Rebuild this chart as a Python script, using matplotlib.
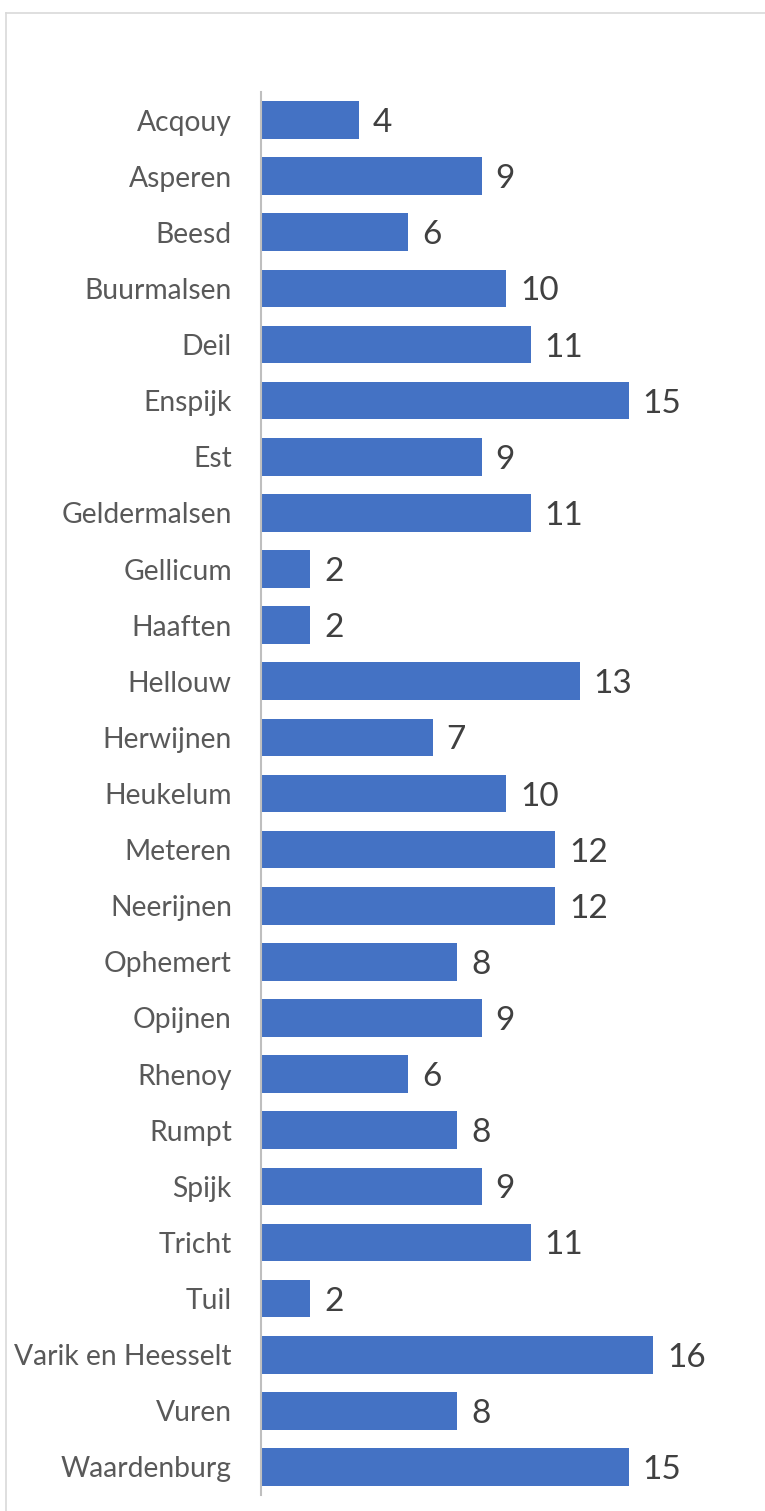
import matplotlib
matplotlib.use('Agg')
import matplotlib.pyplot as plt
from matplotlib.lines import Line2D

places = ['Acqouy', 'Asperen', 'Beesd', 'Buurmalsen', 'Deil', 'Enspijk', 'Est',
          'Geldermalsen', 'Gellicum', 'Haaften', 'Hellouw', 'Herwijnen', 'Heukelum',
          'Meteren', 'Neerijnen', 'Ophemert', 'Opijnen', 'Rhenoy', 'Rumpt', 'Spijk',
          'Tricht', 'Tuil', 'Varik en Heesselt', 'Vuren', 'Waardenburg']
counts = [4, 9, 6, 10, 11, 15, 9, 11, 2, 2, 13, 7, 10, 12, 12, 8, 9, 6, 8, 9,
          11, 2, 16, 8, 15]

W, H, DPI = 765, 1511, 100
plt.rcParams['font.family'] = ['Lato', 'DejaVu Sans']

fig = plt.figure(figsize=(W / DPI, H / DPI), dpi=DPI)
fig.patch.set_facecolor('white')

# outer chart frame (only top and left visible in the reference)
fig.add_artist(Line2D([6 / W, 1.0], [1 - 13 / H, 1 - 13 / H], color='#d9d9d9', lw=1.2))
fig.add_artist(Line2D([6 / W, 6 / W], [1 - 13 / H, 0.0], color='#d9d9d9', lw=1.2))

ax = fig.add_axes([261 / W, 1 - 1495 / H, 490 / W, (1495 - 92) / H])
y = list(range(len(places)))
ax.barh(y, counts, height=0.67, color='#4472C4')
ax.set_ylim(len(places) - 0.5, -0.5)
ax.set_xlim(0, 20)

ax.set_yticks(y)
ax.set_yticklabels(places, fontsize=20.3, color='#595959')
ax.tick_params(axis='y', length=0, pad=21)
ax.set_xticks([])

for s in ['top', 'right', 'bottom']:
    ax.spines[s].set_visible(False)
ax.spines['left'].set_color('#bfbfbf')
ax.spines['left'].set_linewidth(1.5)

for yi, v in zip(y, counts):
    ax.annotate(str(v), (v, yi), xytext=(14, -12), textcoords='offset pixels',
                ha='left', va='baseline', fontsize=24, color='#404040')

fig.savefig('out.png', dpi=DPI)
